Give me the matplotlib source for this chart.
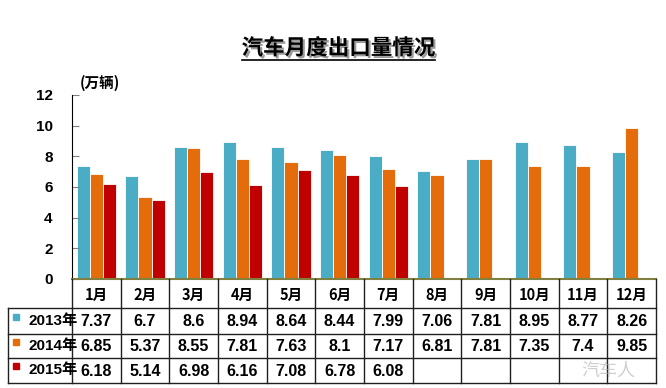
"""Monthly vehicle export volume: grouped bars with a data table underneath."""

import matplotlib
matplotlib.use("Agg")
import matplotlib.pyplot as plt
import matplotlib.patheffects as pe
from matplotlib.lines import Line2D

months = ["1月", "2月", "3月", "4月", "5月", "6月", "7月", "8月", "9月", "10月", "11月", "12月"]
years = ["2013年", "2014年", "2015年"]
exports_2013 = [7.37, 6.7, 8.6, 8.94, 8.64, 8.44, 7.99, 7.06, 7.81, 8.95, 8.77, 8.26]
exports_2014 = [6.85, 5.37, 8.55, 7.81, 7.63, 8.1, 7.17, 6.81, 7.81, 7.35, 7.4, 9.85]
exports_2015 = [6.18, 5.14, 6.98, 6.16, 7.08, 6.78, 6.08]
y_ticks = [0, 2, 4, 6, 8, 10, 12]

series = [exports_2013, exports_2014, exports_2015]
colors = ["#4BACC6", "#E46C0A", "#C00000"]

CJK = ["Noto Sans CJK SC", "DejaVu Sans"]
NUM = ["Liberation Sans", "Noto Sans CJK SC"]

W, H = 666, 388
fig = plt.figure(figsize=(W / 100, H / 100), dpi=100)


def px(x0, y0, x1, y1):
    """Axes rect from pixel box (top-left origin)."""
    return [x0 / W, 1 - y1 / H, (x1 - x0) / W, (y1 - y0) / H]


AX_L, AX_R, AX_T, AX_B = 72, 656, 95, 279
ax = fig.add_axes(px(AX_L, AX_T, AX_R, AX_B))

width = 0.27
offsets = [-width, 0, width]
for vals, off, c in zip(series, offsets, colors):
    xs = [i + off for i in range(len(vals))]
    ax.bar(xs, vals, width=width, color=c, edgecolor="white", linewidth=0.6)

ax.set_xlim(-0.5, len(months) - 0.5)
ax.set_ylim(0, 12)
ax.set_yticks(y_ticks)
ax.set_yticklabels([str(t) for t in y_ticks], fontsize=11, fontweight="bold",
                   family="Liberation Sans")
ax.tick_params(axis="y", direction="in", length=5, color="#808080", pad=14)
ax.set_xticks([])
for s in ["top", "right"]:
    ax.spines[s].set_visible(False)
ax.spines["left"].set_color("black")
ax.spines["bottom"].set_color("#808040")
ax.spines["bottom"].set_linewidth(1.5)

# data table below the plot
TL = 8
tab = fig.add_axes(px(TL, AX_B, AX_R, 384))
colw = (AX_R - AX_L) / len(months)
tab.set_xlim(-0.5 - (AX_L - TL) / colw, len(months) - 0.5)
tab.set_ylim(384, AX_B)
tab.axis("off")
tab.patch.set_alpha(0)

row_edges = [AX_B, 308, 334, 358, 383]
x_left = -0.5 - (AX_L - TL) / colw
lk = dict(color="#202020", linewidth=1.0, clip_on=False)
for i in range(len(months) + 1):
    tab.plot([i - 0.5, i - 0.5], [row_edges[0], row_edges[-1]], **lk)
tab.plot([x_left, x_left], [row_edges[1], row_edges[-1]], **lk)
for y in row_edges[1:]:
    tab.plot([x_left, len(months) - 0.5], [y, y], **lk)

for i, m in enumerate(months):
    tab.text(i, (row_edges[0] + row_edges[1]) / 2 + 1, m, ha="center", va="center",
             fontsize=10.5, fontweight="bold", family=CJK)

for r, (yr, vals, c) in enumerate(zip(years, series, colors)):
    yc = (row_edges[r + 1] + row_edges[r + 2]) / 2
    tab.text(x_left + 0.42, yc, yr, ha="left", va="center", fontsize=11,
             fontweight="bold", family=NUM)
    tab.add_patch(plt.Rectangle((x_left + 0.1, yc - 7), 0.13, 6, color=c,
                                clip_on=False))
    for i, v in enumerate(vals):
        tab.text(i, yc + 1, f"{v:g}", ha="center", va="center", fontsize=11.5,
                 fontweight="bold", family=NUM)

# title with shadow and underline
title = fig.text(0.508, 1 - 48 / H, "汽车月度出口量情况", ha="center", va="center",
                 fontsize=15.5, fontweight="bold", family=CJK,
                 path_effects=[pe.withSimplePatchShadow(offset=(1.5, -1.5),
                                                        shadow_rgbFace="#9a9a9a",
                                                        alpha=1.0)])
fig.canvas.draw()
bb = title.get_window_extent().transformed(fig.transFigure.inverted())
fig.add_artist(Line2D([bb.x0, bb.x1], [bb.y0 - 0.004, bb.y0 - 0.004],
                      transform=fig.transFigure, color="black", linewidth=1.2))

fig.text(80 / W, 1 - 83 / H, "(万辆)", ha="left", va="center", fontsize=10.5,
         fontweight="bold", family=CJK)

# faint watermark, kept in the empty part of the 2015 row
fig.text(608 / W, 1 - 371 / H, "汽车人", ha="center", va="center", fontsize=13,
         color="#b0b0b0", alpha=0.6, family=CJK)

fig.savefig("out.png", dpi=100)
